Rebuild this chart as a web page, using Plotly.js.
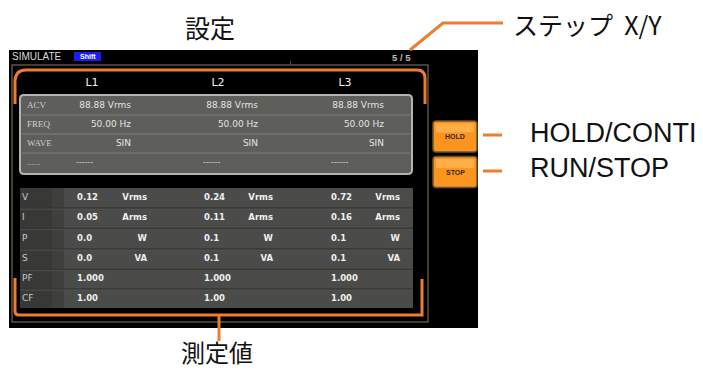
<!DOCTYPE html>
<html><head><meta charset="utf-8">
<script src="https://cdn.plot.ly/plotly-3.0.1.min.js"></script>
<style>html,body{margin:0;padding:0;background:#fff;overflow:hidden}</style>
</head><body><div id="chart" style="width:703px;height:370px"></div>
<script>
// ---------- data ----------
const phases = ['L1', 'L2', 'L3'];
const settingLabels = ['ACV', 'FREQ', 'WAVE', '......'];
const settingACV = ['88.88 Vrms', '88.88 Vrms', '88.88 Vrms'];
const settingFREQ = ['50.00 Hz', '50.00 Hz', '50.00 Hz'];
const settingWAVE = ['SIN', 'SIN', 'SIN'];
const settingBlank = ['------', '------', '------'];
const measLabels = ['V', 'I', 'P', 'S', 'PF', 'CF'];
const measL1 = ['0.12', '0.05', '0.0', '0.0', '1.000', '1.00'];
const measL2 = ['0.24', '0.11', '0.1', '0.1', '1.000', '1.00'];
const measL3 = ['0.72', '0.16', '0.1', '0.1', '1.000', '1.00'];
const measUnits = ['Vrms', 'Arms', 'W', 'VA', '', ''];
const modeTitle = 'SIMULATE';
const shiftTag = 'Shift';
const pageTag = '5 / 5';
const buttonLabels = ['HOLD', 'STOP'];
const calloutSettings = '設定';
const calloutMeasure = '測定値';
const calloutStep = 'ステップ  X/Y';
const calloutButtons = ['HOLD/CONTI', 'RUN/STOP'];

// ---------- layout geometry (pixels) ----------
const hdrX = [92, 218, 345], hdrY = 83;
const setRowY = [106, 125, 144, 163];
const setValRight = [131, 258, 384];
const setDashLeft = [76, 203, 331];
const measRowY = [198, 218, 238.5, 259, 279, 299];
const measValLeft = [77, 204, 331];
const measUnitRight = [147, 273, 400];
const btnY = [136.5, 172];

const screenFont = 'DejaVu Sans, sans-serif';
const traces = [];
function txt(xs, ys, texts, pos, font) {
  traces.push({type: 'scatter', mode: 'text', x: xs, y: ys, text: texts,
    textposition: pos, textfont: font, hoverinfo: 'skip', cliponaxis: false, showlegend: false});
}
// headers
txt(hdrX, hdrX.map(() => hdrY), phases, 'middle center', {family: screenFont, size: 11, color: '#f2f2f2'});
// settings labels
txt(setRowY.map(() => 27), setRowY, settingLabels, 'middle right', {family: 'Liberation Serif, serif', size: 9, color: '#cfcfcf'});
// settings values
[settingACV, settingFREQ, settingWAVE].forEach((row, r) => {
  txt(setValRight, setValRight.map(() => setRowY[r]), row, 'middle left', {family: screenFont, size: 9, color: '#e4e4e4'});
});
txt(setDashLeft, setDashLeft.map(() => setRowY[3]), settingBlank, 'middle right', {family: screenFont, size: 8, color: '#d0d0d0'});
// measurement labels
txt(measRowY.map(() => 22), measRowY, measLabels, 'middle right', {family: screenFont, size: 9, color: '#c8c8c8'});
// measurement values
[measL1, measL2, measL3].forEach((col, c) => {
  txt(measRowY.map(() => measValLeft[c]), measRowY, col, 'middle right', {family: 'DejaVu Sans, sans-serif', size: 8.5, color: '#f0f0f0', weight: 'bold'});
  const uy = [], ut = [];
  measUnits.forEach((u, i) => { if (u) { uy.push(measRowY[i]); ut.push(u); } });
  txt(uy.map(() => measUnitRight[c]), uy, ut, 'middle left', {family: 'DejaVu Sans, sans-serif', size: 8.5, color: '#f0f0f0', weight: 'bold'});
});

// ---------- shapes ----------
const orange = '#ED7D31';
const shapes = [];
function rect(x0, y0, x1, y1, fill, line, lw) {
  shapes.push({type: 'rect', xref: 'x', yref: 'y', x0, y0, x1, y1, layer: 'below',
    fillcolor: fill || 'rgba(0,0,0,0)', line: {color: line || 'rgba(0,0,0,0)', width: lw || 0}});
}
function path(d, color, w, fill) {
  shapes.push({type: 'path', xref: 'x', yref: 'y', path: d, layer: 'below',
    fillcolor: fill || 'rgba(0,0,0,0)', line: {color, width: w}});
}
function rrect(x0, y0, x1, y1, r) {
  return `M${x0 + r},${y0} L${x1 - r},${y0} Q${x1},${y0} ${x1},${y0 + r} L${x1},${y1 - r} Q${x1},${y1} ${x1 - r},${y1} L${x0 + r},${y1} Q${x0},${y1} ${x0},${y1 - r} L${x0},${y0 + r} Q${x0},${y0} ${x0 + r},${y0} Z`;
}
// screen
rect(9, 50, 478, 328, '#000000');
// outer frame
rect(12, 65, 428, 322, null, '#5d5244', 1.5);
rect(290, 61, 291, 65, '#4a4a4a');
// shift badge
rect(74, 52, 101, 61, '#1c1cf5');
// settings panel
path(rrect(20, 95, 412, 174, 4), '#b4b4b4', 2, '#5e5e5b');
[115, 134, 153].forEach(y => {
  path(`M22,${y} L410,${y}`, '#757572', 1.5);
});
// measurement table
rect(20, 188, 413, 308, '#4b4c49');
rect(20, 188, 64, 308, '#383937');
rect(52, 188, 64, 308, '#3f403e');
[208, 228.5, 249, 269.5, 289].forEach(y => {
  path(`M20,${y} L413,${y}`, '#363735', 1.5);
  path(`M20,${y + 1.2} L413,${y + 1.2}`, '#585955', 0.7);
});
// buttons
btnY.forEach(cy => {
  path(rrect(433, cy - 15.5, 477, cy + 15.5, 3), '#6e5130', 1.5, '#fb9520');
  rect(436, cy - 13, 474, cy - 4, '#ffae48');
});
// orange brackets
path('M15,104 L15,80 Q16,70 26,70 L417,70 Q425,70 425,78 L425,104', orange, 3);
path('M15,278 L15,311 Q15,315 19,315 L422,315 L422,279', orange, 3);
// callout connectors
path('M219,315 L219,341', orange, 3);
path('M410,50 L443,23 L503,23', orange, 3);
path('M483,135 L502,135', orange, 3);
path('M483,171 L502,171', orange, 3);

// ---------- annotations ----------
const ann = [];
function note(x, y, text, font, xanchor) {
  ann.push({xref: 'x', yref: 'y', x, y, text, showarrow: false, xanchor: xanchor || 'center', yanchor: 'middle', font, borderpad: 0});
}
note(11, 56, modeTitle, {family: 'Liberation Sans, sans-serif', size: 10, color: '#dcdcdc'}, 'left');
note(87.5, 56.5, shiftTag, {family: 'Liberation Sans, sans-serif', size: 7, color: '#ffffff', weight: 'bold'});
note(401, 57, pageTag, {family: 'Liberation Sans, sans-serif', size: 9.5, color: '#bdbdbd', weight: 'bold'});
buttonLabels.forEach((b, i) => note(455, btnY[i], b, {family: 'Liberation Sans, sans-serif', size: 7, color: '#3b2a12', weight: 'bold'}));
const jp = 'Noto Sans CJK JP, sans-serif';
note(210, 27, calloutSettings, {family: jp, size: 25, color: '#111111'});
note(217, 351, calloutMeasure, {family: jp, size: 24, color: '#111111'});
note(512, 24, calloutStep, {family: jp, size: 25, color: '#111111'}, 'left');
calloutButtons.forEach((t, i) => note(529, [133, 168][i], t, {family: 'Liberation Sans, Arial, sans-serif', size: 27, color: '#111111'}, 'left'));

const layout = {
  width: 703, height: 370, margin: {l: 0, r: 0, t: 0, b: 0},
  paper_bgcolor: '#ffffff', plot_bgcolor: '#ffffff', showlegend: false,
  xaxis: {range: [0, 703], visible: false, fixedrange: true},
  yaxis: {range: [370, 0], visible: false, fixedrange: true},
  shapes, annotations: ann
};
Plotly.newPlot('chart', traces, layout, {staticPlot: true, displayModeBar: false});
</script></body></html>
